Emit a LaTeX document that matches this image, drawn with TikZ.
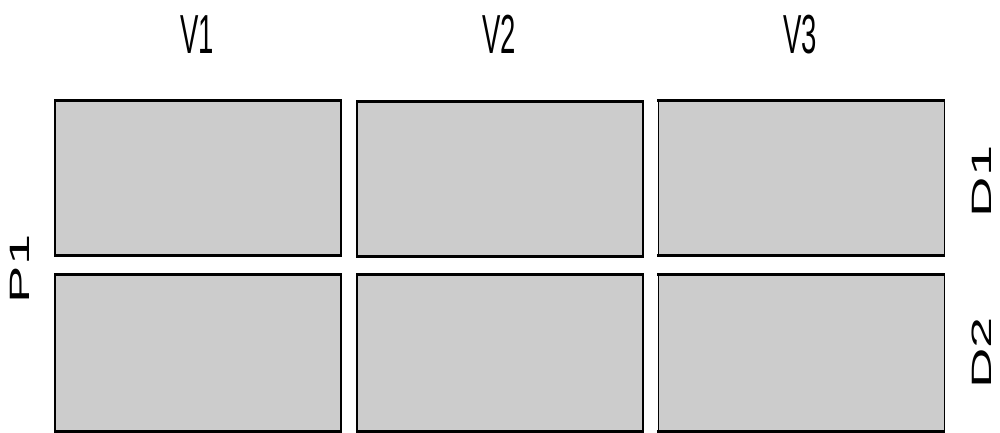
\documentclass[tikz,border=0pt]{standalone}
\usepackage{fontspec}
\setmainfont{Liberation Sans}
\definecolor{panelgray}{HTML}{CCCCCC}
\begin{document}
\begin{tikzpicture}[x=1pt,y=-1pt,
  panel/.style={fill=panelgray, draw=black, line width=1.6pt, inner sep=0pt},
  hedge/.style={line width=3.2pt, black},
  toplabel/.style={font=\fontsize{27.5}{30}\selectfont, inner sep=0pt},
  sidelabel/.style={font=\fontsize{28}{30}\selectfont, inner sep=0pt, rotate=90}]
\useasboundingbox (0,0) rectangle (1000,433);
% panels
\path[panel] (55,101) rectangle (341,255);
\path[panel] (357,102) rectangle (643,256);
\path[panel] (658.3,101) rectangle (944.3,255);
\path[panel] (55,275) rectangle (341,431.5);
\path[panel] (357,275) rectangle (643,431.5);
\path[panel] (658.3,275) rectangle (944.3,431.5);
\node[inner sep=0pt, minimum width=286pt, minimum height=154pt] (p11) at (198,178) {};
\node[inner sep=0pt, minimum width=286pt, minimum height=154pt] (p12) at (500,179) {};
\node[inner sep=0pt, minimum width=286pt, minimum height=154pt] (p13) at (801.3,178) {};
\node[inner sep=0pt, minimum width=286pt, minimum height=156.5pt] (p21) at (198,353.25) {};
\node[inner sep=0pt, minimum width=286pt, minimum height=156.5pt] (p22) at (500,353.25) {};
\node[inner sep=0pt, minimum width=286pt, minimum height=156.5pt] (p23) at (801.3,353.25) {};
% thicker horizontal edges
\foreach \p in {p11,p12,p13,p21,p22,p23}{
  \draw[hedge] ([xshift=-0.8pt]\p.north west) -- ([xshift=0.8pt]\p.north east);
  \draw[hedge] ([xshift=-0.8pt]\p.south west) -- ([xshift=0.8pt]\p.south east);
}
% labels
\node[toplabel] (v1) at (197,34.5) {\scalebox{1}[2]{V1}};
\node[toplabel] (v2) at (499,34.5) {\scalebox{1}[2]{V2}};
\node[toplabel] (v3) at (800,34.5) {\scalebox{1}[2]{V3}};
\node[sidelabel] (pl) at (20,269) {\scalebox{2}[1]{P1}};
\node[sidelabel] (d1) at (982,181.5) {\scalebox{2}[1]{D1}};
\node[sidelabel] (d2) at (982,353) {\scalebox{2}[1]{D2}};
\end{tikzpicture}
\end{document}
